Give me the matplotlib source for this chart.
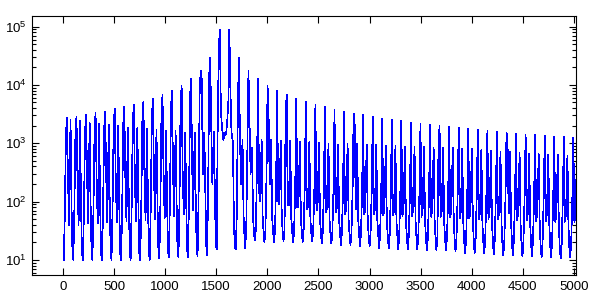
import numpy as np
import matplotlib
matplotlib.use("Agg")
import matplotlib.pyplot as plt
from matplotlib.ticker import FixedLocator, LogLocator, NullLocator, NullFormatter

plt.rcParams["font.family"] = ["Liberation Sans", "DejaVu Sans"]
plt.rcParams["mathtext.fontset"] = "custom"
plt.rcParams["mathtext.rm"] = "Liberation Sans"
plt.rcParams["mathtext.it"] = "Liberation Sans:italic"

# -----------------------------
# Data: one entry per cycle (54 cycles)
# -----------------------------
peak_x = [39, 132, 226, 319, 413, 506, 600, 693, 787, 880, 974, 1067, 1161, 1254,
          1348, 1441, 1535, 1628, 1722, 1815, 1909, 2002, 2096, 2189, 2283, 2376,
          2470, 2563, 2657, 2750, 2844, 2937, 3031, 3124, 3218, 3311, 3405, 3498,
          3592, 3685, 3779, 3872, 3966, 4059, 4153, 4246, 4340, 4433, 4527, 4620,
          4714, 4807, 4901, 4994]

# sample offsets (x units) of each cycle's vertices relative to its main peak
offsets = [-31, -21, -10, 0, 10, 21, 35, 45, 54]

trough = [10, 10, 10, 10, 10, 10, 10, 10, 10, 10, 10.5, 11, 11, 11, 11.5, 12,
          15, 1500, 15, 16, 22,
          20, 20, 21, 20, 20, 21, 19, 19, 18, 18, 17, 17, 16, 16, 15, 15, 15,
          14.5, 14.5, 14.5, 14, 13, 13, 13, 12.5, 12, 12, 11.5, 11.5, 11, 11, 10.5, 11]

rise = [60, 62, 65, 65, 68, 70, 72, 75, 78, 80, 85, 90, 95, 100, 110, 130,
        1900, 2350, 60, 40, 35,
        32, 32, 33, 32, 32, 33, 30, 30, 29, 29, 28, 28, 27, 27, 26, 26, 26,
        25, 25, 25, 24, 23, 23, 23, 22, 22, 22, 21, 21, 20, 20, 19, 20]

shoulder = [1400, 1450, 1550, 1700, 1750, 1950, 2100, 2300, 2600, 2900, 3400, 4000,
            4900, 6400, 8800, 14700,
            43600, 4900, 5600,
            1000, 500, 300, 250, 3300, 200, 180, 170, 160, 160, 150, 150, 150, 150,
            140, 140, 140, 140, 140, 140, 990, 130, 130, 130, 130, 130, 130,
            120, 120, 120, 120, 120, 110, 110, 110]

peak = [2780, 2860, 3100, 3350, 3490, 3920, 4240, 4590, 5170, 5820, 6820, 7980,
        9730, 12800, 17600, 29400, 89000, 89000,
        29400, 17600, 12800, 9730, 7980, 6820, 5820, 5170, 4590, 4240, 3770, 3490,
        3220, 3100, 2860, 2640, 2540, 2440, 2260, 2170, 2080, 2000, 1930, 1850,
        1780, 1710, 1640, 1580, 1520, 1460, 1410, 1410, 1350, 1300, 1300, 1250]

dip = [250, 250, 260, 260, 270, 270, 280, 280, 290, 300, 310, 320, 340, 400, 12300, 1900,
       3700, 8700, 1150, 2640,
       150, 2970, 100, 90, 80, 75, 70, 65, 65, 60, 2260,
       60, 60, 58, 58, 56, 56, 55, 55, 54, 54, 52, 52, 50, 50, 50,
       1060, 48, 48, 46, 46, 45, 45, 44]

low = [40, 40, 42, 42, 44, 44, 46, 46, 48, 50, 52, 55, 60, 70, 300, 200,
       1900, 1500, 200, 300,
       100, 200, 90, 85, 80, 80, 78, 76, 75, 74, 73, 72, 72, 71, 70, 70, 70,
       69, 68, 68, 67, 66, 66, 65, 64, 64, 63, 62, 62, 61, 60, 60, 60, 60]

second = [2540, 2440, 2280, 2170, 2080, 2000, 1870, 1870, 1780, 1710, 1640, 1640,
          1500, 1520, 1520, 1580, 1150, 1060,
          1150, 830, 1150, 1150, 1100, 1100, 1060, 1060, 1020, 990, 940, 990, 990,
          940, 940, 900, 900, 870, 870, 870, 830, 830, 830, 810, 810, 760, 740,
          720, 700, 680, 660, 650, 640, 630, 620, 610]

fall = [80, 80, 80, 82, 82, 84, 84, 86, 88, 90, 92, 95, 100, 110, 130, 150,
        1500, 40, 60,
        55, 55, 52, 52, 52, 50, 50, 50, 50, 49, 49, 49, 48, 48, 48, 47, 47, 47,
        46, 46, 45, 45, 44, 44, 43, 43, 42, 42, 41, 41, 40, 40, 40, 39, 39]

tail = [13, 13, 13, 13, 13, 13, 13, 13, 13, 14, 14, 14, 15, 16, 18, 20,
        1400, 16, 25,
        28, 30, 30, 30, 30, 30, 29, 29, 28, 28, 27, 27, 26, 26, 25, 25, 24, 24,
        23, 23, 22, 22, 21, 21, 20, 20, 19, 19, 18, 18, 17, 17, 16, 16, 16]

# -----------------------------
# Assemble the line
# -----------------------------
x = (np.array(peak_x)[:, None] + np.array(offsets)[None, :]).ravel()
y = np.column_stack([trough, rise, shoulder, peak, dip, low, second, fall, tail]).ravel()

# -----------------------------
# Plot
# -----------------------------
fig = plt.figure(figsize=(6.01, 3.03), dpi=100)
ax = fig.add_axes([32 / 601, 28 / 303, 544 / 601, 259 / 303])

ax.plot(x, y, color="#0000ff", lw=0.5, antialiased=False)

ax.set_yscale("log")
ax.set_xlim(-303, 5020)
ax.set_ylim(5.5, 1.52e5)

ax.xaxis.set_major_locator(FixedLocator(np.arange(0, 5001, 500)))
ax.xaxis.set_minor_locator(NullLocator())
ax.yaxis.set_major_locator(FixedLocator([1e1, 1e2, 1e3, 1e4, 1e5]))
ax.yaxis.set_minor_locator(LogLocator(base=10, subs=np.arange(2, 10)))
ax.yaxis.set_minor_formatter(NullFormatter())
ax.set_yticklabels([r"$10^{%d}$" % e for e in range(1, 6)])

ax.tick_params(which="both", direction="in", top=True, right=True, width=0.8,
               labelsize=9.5, colors="black")
ax.tick_params(which="major", length=5, pad=4)
ax.tick_params(which="minor", length=3)
for s in ax.spines.values():
    s.set_linewidth(0.8)

fig.savefig("out.png", dpi=100)
